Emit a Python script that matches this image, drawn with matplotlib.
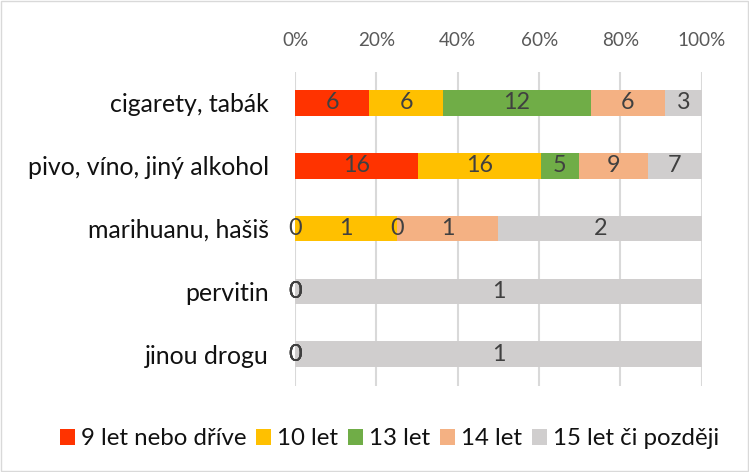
import matplotlib
matplotlib.use("Agg")
import matplotlib.pyplot as plt
import numpy as np
from matplotlib.patches import Rectangle

categories = ["cigarety, tabák", "pivo, víno, jiný alkohol", "marihuanu, hašiš", "pervitin", "jinou drogu"]
series_names = ["9 let nebo dříve", "10 let", "13 let", "14 let", "15 let či později"]
v9 = [6, 16, 0, 0, 0]
v10 = [6, 16, 1, 0, 0]
v13 = [12, 5, 0, 0, 0]
v14 = [6, 9, 1, 0, 0]
v15 = [3, 7, 2, 1, 1]
colors = ["#FF3300", "#FFC000", "#70AD47", "#F4B183", "#D0CECE"]
xticks = [0, 20, 40, 60, 80, 100]

plt.rcParams['font.family'] = ['Lato', 'DejaVu Sans']

data = np.array([v9, v10, v13, v14, v15], dtype=float)
totals = data.sum(axis=0)
pct = data / totals * 100

DPI = 100
fig = plt.figure(figsize=(7.49, 4.72), dpi=DPI)
fig.canvas.draw()
renderer = fig.canvas.get_renderer()


def fit(text, target_px, base=12.0):
    t = fig.text(0, 0, text, fontsize=base)
    w = t.get_window_extent(renderer).width
    t.remove()
    return base * target_px / w


fs_cat = fit("pivo, víno, jiný alkohol", 241)
fs_tick = fit("100%", 48)
fs_lab = fit("16", 27)
fs_leg = fit("15 let či později", 166)

ax = fig.add_axes([0.394, 0.183, 0.543, 0.6655])
y = np.arange(len(categories))
left = np.zeros(len(categories))
for i, name in enumerate(series_names):
    ax.barh(y, pct[i], left=left, height=0.41, color=colors[i], label=name, zorder=3)
    for j in range(len(categories)):
        cx = left[j] + pct[i][j] / 2
        ax.text(cx, y[j], f"{int(data[i][j])}", ha='center', va='center',
                fontsize=fs_lab, color='#404040', zorder=4)
    left += pct[i]

ax.set_xlim(0, 100)
ax.set_ylim(len(categories) - 0.5, -0.5)
ax.set_yticks(y)
ax.set_yticklabels(categories, fontsize=fs_cat, color='#111111')
ax.set_xticks(xticks)
ax.set_xticklabels([f"{t}%" for t in xticks], fontsize=fs_tick, color='#595959')
ax.xaxis.tick_top()
ax.tick_params(axis='both', length=0)
ax.tick_params(axis='x', pad=16)
ax.tick_params(axis='y', pad=19)
ax.grid(axis='x', color='#D9D9D9', linewidth=1.5, zorder=0)
for s in ax.spines.values():
    s.set_visible(False)

leg_px = fs_leg * DPI / 72.0
leg = fig.legend(loc='center', bbox_to_anchor=(0.52, 0.070), ncol=5, frameon=False,
                 fontsize=fs_leg, handlelength=15 / leg_px, handleheight=15 / leg_px,
                 handletextpad=6 / leg_px, columnspacing=10 / leg_px, borderaxespad=0)
for t in leg.get_texts():
    t.set_color('#111111')

fig.patches.append(Rectangle((0.002, 0.003), 0.996, 0.994, transform=fig.transFigure,
                             fill=False, edgecolor='#D9D9D9', linewidth=1))
fig.savefig("out.png", dpi=DPI)
